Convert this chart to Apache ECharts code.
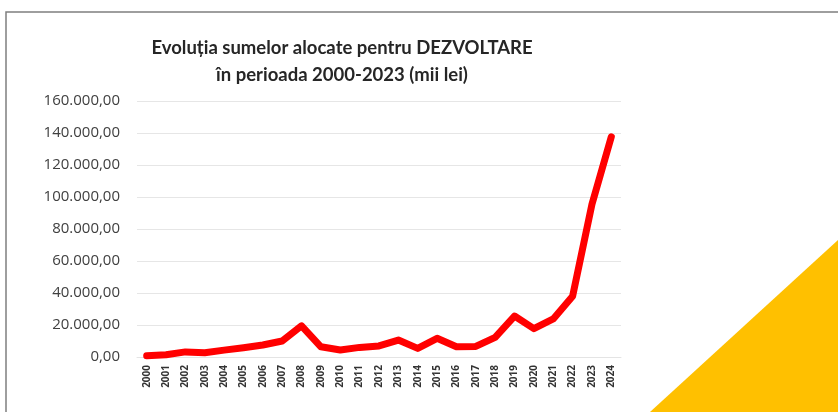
<!DOCTYPE html>
<html>
<head>
<meta charset="utf-8">
<script src="https://cdn.jsdelivr.net/npm/echarts@6/dist/echarts.min.js"></script>
<style>
  html, body { margin: 0; padding: 0; background: #fff; }
  #chart { width: 838px; height: 412px; }
</style>
</head>
<body>
<div id="chart"></div>
<script>
// ani
const years = ['2000', '2001', '2002', '2003', '2004', '2005', '2006', '2007', '2008', '2009',
    '2010', '2011', '2012', '2013', '2014', '2015', '2016', '2017', '2018', '2019',
    '2020', '2021', '2022', '2023', '2024'];
// sume alocate (mii lei)
const sume = [800, 1400, 3200, 2700, 4300, 5800, 7500, 10000, 19500, 6400,
    4400, 6000, 6900, 10600, 5400, 11700, 6400, 6600, 12300, 25600,
    17700, 23800, 38000, 95500, 137600];
const yTicks = [0, 20000, 40000, 60000, 80000, 100000, 120000, 140000, 160000];

// format romanesc: 160.000,00
const formatRo = function (v) {
    const s = Math.round(v).toString().replace(/\B(?=(\d{3})+(?!\d))/g, '.');
    return s + ',00';
};

const option = {
    backgroundColor: '#fff',
    animation: false,
    title: {
        text: 'Evoluția sumelor alocate pentru DEZVOLTARE\nîn perioada 2000-2023 (mii lei)',
        left: 337,
        top: 30,
        textAlign: 'center',
        textStyle: {
            fontFamily: 'Lato',
            fontSize: 18.5,
            fontWeight: 'bold',
            color: '#262626',
            lineHeight: 27
        }
    },
    grid: {
        left: 137,
        right: 217,
        top: 101,
        bottom: 55
    },
    xAxis: {
        type: 'category',
        data: years,
        boundaryGap: true,
        axisLine: { show: true, lineStyle: { color: '#e4e4e4', width: 1 } },
        axisTick: { show: false },
        axisLabel: {
            rotate: 90,
            interval: 0,
            margin: 8,
            fontFamily: 'Open Sans',
            fontSize: 10,
            fontWeight: 'bold',
            color: '#333'
        }
    },
    yAxis: {
        type: 'value',
        min: yTicks[0],
        max: yTicks[yTicks.length - 1],
        interval: 20000,
        axisLine: { show: false },
        axisTick: { show: false },
        splitLine: { lineStyle: { color: '#e6e6e6', width: 1 } },
        axisLabel: {
            margin: 17,
            fontFamily: 'Open Sans',
            fontSize: 15,
            color: '#404040',
            formatter: formatRo
        }
    },
    series: [{
        type: 'line',
        data: sume,
        showSymbol: false,
        lineStyle: { color: '#ff0000', width: 7, cap: 'round', join: 'round' }
    }],
    graphic: [
        {
            // rama
            type: 'polyline',
            shape: { points: [[6, 412], [6, 12], [838, 12]] },
            style: { stroke: '#7f7f7f', lineWidth: 1.5, fill: null },
            silent: true
        },
        {
            // triunghi galben
            type: 'polygon',
            shape: { points: [[650, 412], [838, 240], [838, 412]] },
            style: { fill: '#ffc000' },
            silent: true
        }
    ]
};

const chart = echarts.init(document.getElementById('chart'));
chart.setOption(option);
</script>
</body>
</html>
